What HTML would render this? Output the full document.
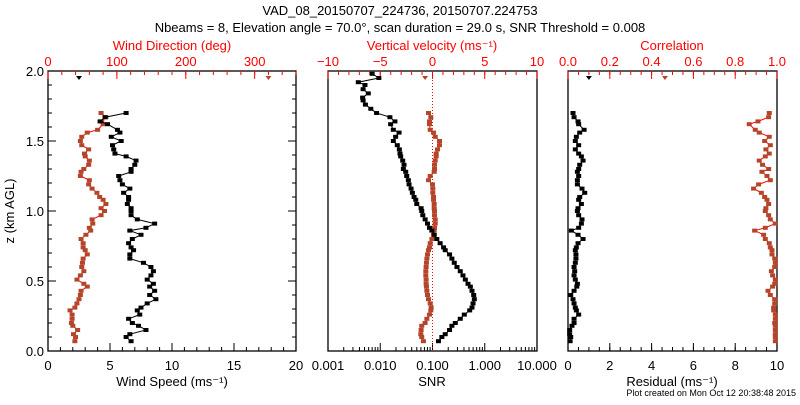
<!DOCTYPE html>
<html><head><meta charset="utf-8"><style>
body{margin:0;background:#fff}
svg text{font-family:"Liberation Sans",sans-serif}
</style></head><body>
<svg id="c" width="800" height="400" viewBox="0 0 800 400" xmlns="http://www.w3.org/2000/svg">
<rect width="800" height="400" fill="#fff"/>
<text x="400" y="15" font-size="13" text-anchor="middle">VAD_08_20150707_224736, 20150707.224753</text>
<text x="400" y="32" font-size="13" text-anchor="middle">Nbeams = 8, Elevation angle = 70.0°, scan duration = 29.0 s, SNR Threshold = 0.008</text>
<text x="14" y="211" font-size="13" text-anchor="middle" transform="rotate(-90 14 211)">z (km AGL)</text>
<text x="796" y="396" font-size="9" text-anchor="end">Plot created on Mon Oct 12 20:38:48 2015</text>
<g id="g"></g>
</svg>
<script>
const heights=[1.98,1.95,1.92,1.90,1.87,1.84,1.81,1.79,1.76,1.73,
1.70,1.67,1.64,1.62,1.58,1.56,1.53,1.50,1.47,1.44,1.41,1.39,1.36,1.33,1.30,1.28,1.25,1.22,1.19,1.16,1.13,1.10,1.08,1.05,1.02,1.00,0.97,0.94,0.91,0.88,0.86,0.83,0.80,0.77,0.74,0.72,0.69,0.66,0.63,0.60,0.57,0.54,0.51,0.48,0.46,0.43,0.40,0.37,0.34,0.31,0.29,0.26,0.23,0.20,0.18,0.15,0.12,0.10,0.07];
const windSpeed=[6.3,4.6,4.2,4.8,5.6,5.8,5.1,5.9,5.2,5.3,5.4,6.3,7.1,7.0,6.7,6.7,5.7,5.8,6.0,6.6,6.1,6.5,6.5,6.4,6.7,6.7,6.7,7.2,8.6,7.9,6.6,7.5,6.8,6.5,6.7,6.9,6.6,6.6,7.7,8.3,8.5,8.3,8.0,8.5,8.2,8.6,8.2,8.7,8.0,7.5,7.2,7.4,6.5,6.8,7.3,7.9,6.6,6.3,6.7];
const windDir=[77,84,78,80,72,57,49,47,49,59,53,54,60,59,52,48,47,60,59,64,71,75,80,84,77,82,77,64,65,60,62,55,48,51,51,54,57,51,50,49,52,47,42,52,57,48,47,45,42,39,32,35,35,34,36,43,37,40,39];
const snr=[0.0070,0.0094,0.0038,0.0051,0.0047,0.0059,0.0046,0.0047,0.0052,0.0066,
0.0085,0.0153,0.0191,0.0158,0.0178,0.0229,0.0197,0.0178,0.0212,0.0232,0.0239,0.0246,0.0269,0.0285,0.0277,0.0307,0.0321,0.0345,0.0356,0.0389,0.0412,0.0444,0.0478,0.0500,0.0605,0.0623,0.0652,0.0723,0.0802,0.0875,0.0971,0.108,0.121,0.140,0.163,0.175,0.212,0.235,0.261,0.294,0.340,0.383,0.425,0.478,0.530,0.570,0.614,0.632,0.597,0.570,0.515,0.406,0.340,0.273,0.235,0.212,0.175,0.151,0.130];
const wVel=[-0.38,-0.16,-0.29,-0.29,-0.22,0.10,0.26,0.67,0.67,0.48,0.35,0.35,0.26,0.19,0.19,0.16,-0.22,-0.38,0,0.03,0.03,0.10,0.10,0.16,0.16,0.19,0.19,0.26,0.26,0.19,0.16,0.10,-0.06,-0.22,-0.29,-0.38,-0.48,-0.54,-0.58,-0.61,-0.64,-0.64,-0.61,-0.61,-0.58,-0.54,-0.48,-0.38,-0.22,-0.13,-0.16,-0.29,-0.54,-0.71,-1.03,-1.09,-1.12,-1.03,-0.87];
const residual=[0.24,0.29,0.48,0.51,0.77,0.56,0.40,0.35,0.51,0.35,0.51,0.64,0.72,0.56,0.51,0.45,0.51,0.45,0.45,0.67,0.80,0.56,0.51,0.64,0.48,0.45,0.51,0.67,0.64,0.51,0.16,0.48,0.72,0.48,0.40,0.35,0.38,0.38,0.35,0.29,0.32,0.29,0.35,0.45,0.42,0.29,0.13,0.24,0.29,0.35,0.40,0.51,0.29,0.29,0.19,0.08,0.08,0.13,0.10];
const correlation=[0.963,0.960,0.909,0.867,0.896,0.915,0.963,0.941,0.968,0.947,0.963,0.944,0.915,0.931,0.960,0.928,0.952,0.968,0.912,0.888,0.925,0.941,0.952,0.960,0.947,0.944,0.960,0.968,0.992,0.944,0.893,0.936,0.944,0.963,0.968,0.976,0.976,0.989,0.992,0.989,0.973,0.979,0.992,0.989,0.979,0.957,0.968,0.989,0.989,0.984,0.984,0.992,0.992,0.989,0.992,0.992,0.992,0.992,0.992];
const topH=1.95, topSpeed=2.5, topDir=320, topW=-0.71, topResid=1.0, topCorr=0.464;
const yTicks=["0.0","0.5","1.0","1.5","2.0"];

const NS="http://www.w3.org/2000/svg", G=document.getElementById('g');
function el(t,a,p){const e=document.createElementNS(NS,t);for(const k in a)e.setAttribute(k,a[k]);(p||G).appendChild(e);return e;}
const Y0=351,Y1=71;
const yS=h=>Y0+(Y1-Y0)*h/2;
const RED="#f00",PT="#b4442a";
const P1={l:48,r:296},P2={l:328,r:537},P3={l:568,r:777};
const lin=(p,a,b)=>v=>p.l+(p.r-p.l)*(v-a)/(b-a);
const xWS=lin(P1,0,20),xWD=lin(P1,0,360);
const xSNR=v=>P2.l+(P2.r-P2.l)*(Math.log10(v)+3)/4,xW=lin(P2,-10,10);
const xRes=lin(P3,0,10),xCor=lin(P3,0,1);

function frame(p,name){const f=el('rect',{x:p.l,y:Y1,width:p.r-p.l,height:Y0-Y1,fill:'none',stroke:'#000','stroke-width':1.3});
}
function ticks(xs,len,top,col){xs.forEach(x=>{const y=top?Y1:Y0;el('line',{x1:x,x2:x,y1:y,y2:top?y+len:y-len,stroke:col,'stroke-width':1});});}
function label(x,y,t,col,name,size){const e=el('text',{x:x,y:y,'font-size':size||13,'text-anchor':'middle',fill:col});e.textContent=t;
return e;}
function rng(a,b,s){const o=[];for(let v=a;v<=b+1e-9;v+=s)o.push(+v.toFixed(6));return o;}

// panel 1
frame(P1,'wind-panel-frame');
ticks(rng(0,20,1).map(xWS),4,false,'#000');ticks(rng(0,20,5).map(xWS),8,false,'#000');
rng(0,20,5).forEach(v=>label(xWS(v),370,String(v),'#000','wind-speed-tick'));
ticks(rng(0,360,20).map(xWD),4,true,RED);ticks(rng(0,300,100).map(xWD),8,true,RED);
rng(0,300,100).forEach(v=>label(xWD(v),66,String(v),RED,'wind-direction-tick'));
rng(0,2,0.1).forEach(h=>{const y=yS(h),L=Math.abs(h*2-Math.round(h*2))<1e-6?8:4;
el('line',{x1:P1.l,x2:P1.l+L,y1:y,y2:y,stroke:'#000'});el('line',{x1:P1.r,x2:P1.r-L,y1:y,y2:y,stroke:'#000'});});
yTicks.forEach(t=>{const e=el('text',{x:44,y:yS(+t)+5,'font-size':13,'text-anchor':'end'});e.textContent=t;
});
label(172,386,'Wind Speed (ms⁻¹)','#000','wind-speed-axis-title');
label(172,50,'Wind Direction (deg)',RED,'wind-direction-axis-title');

// panel 2
frame(P2,'snr-panel-frame');
for(let d=-3;d<1;d++)for(let m=1;m<=9;m++){const x=xSNR(m*Math.pow(10,d));el('line',{x1:x,x2:x,y1:Y0,y2:Y0-(m==1?8:4),stroke:'#000'});}
["0.001","0.010","0.100","1.000","10.000"].forEach(t=>label(xSNR(+t),370,t,'#000','snr-tick'));
ticks(rng(-10,10,1).map(xW),4,true,RED);ticks(rng(-10,10,5).map(xW),8,true,RED);
rng(-10,10,5).forEach(v=>label(xW(v),66,v<0?'−'+(-v):String(v),RED,'vertical-velocity-tick'));
label(432,386,'SNR','#000','snr-axis-title');
label(432,50,'Vertical velocity (ms⁻¹)',RED,'vertical-velocity-axis-title');
const zl=el('line',{x1:xW(0),x2:xW(0),y1:Y1,y2:Y0,stroke:RED,'stroke-dasharray':'1,2'});


// panel 3
frame(P3,'residual-panel-frame');
ticks(rng(0,10,0.5).map(xRes),4,false,'#000');ticks(rng(0,10,2).map(xRes),8,false,'#000');
rng(0,10,2).forEach(v=>label(xRes(v),370,String(v),'#000','residual-tick'));
ticks(rng(0,1,0.05).map(xCor),4,true,RED);ticks(rng(0,1,0.2).map(xCor),8,true,RED);
rng(0,1,0.2).forEach(v=>label(xCor(v),66,v.toFixed(1),RED,'correlation-tick'));
label(672,386,'Residual (ms⁻¹)','#000','residual-axis-title');
label(672,50,'Correlation',RED,'correlation-axis-title');

function series(xs,hs,xf,lc,pc,name){
  const pts=xs.map((v,i)=>[xf(v),yS(hs[i])]);
  const pl=el('polyline',{points:pts.map(p=>p.join(',')).join(' '),fill:'none',stroke:lc,'stroke-width':1});
  
  pts.forEach(p=>{const m=el('rect',{x:p[0]-2.5,y:p[1]-2,width:5,height:4,fill:pc});
  });
}
function single(v,xf,col,name){const m=el('path',{d:`M${xf(v)-3},${yS(topH)-2}h6l-3,4z`,fill:col});
}
const wH=heights.slice(10);
series(windDir,wH,xWD,RED,PT,'wind-direction');
series(windSpeed,wH,xWS,'#000','#000','wind-speed');
single(topSpeed,xWS,'#000','wind-speed-top-point');single(topDir,xWD,PT,'wind-direction-top-point');
series(wVel,wH,xW,RED,PT,'vertical-velocity');
series(snr,heights,xSNR,'#000','#000','snr');
single(topW,xW,PT,'vertical-velocity-top-point');
series(correlation,wH,xCor,RED,PT,'correlation');
series(residual,wH,xRes,'#000','#000','residual');
single(topResid,xRes,'#000','residual-top-point');single(topCorr,xCor,PT,'correlation-top-point');
</script>
</body></html>
